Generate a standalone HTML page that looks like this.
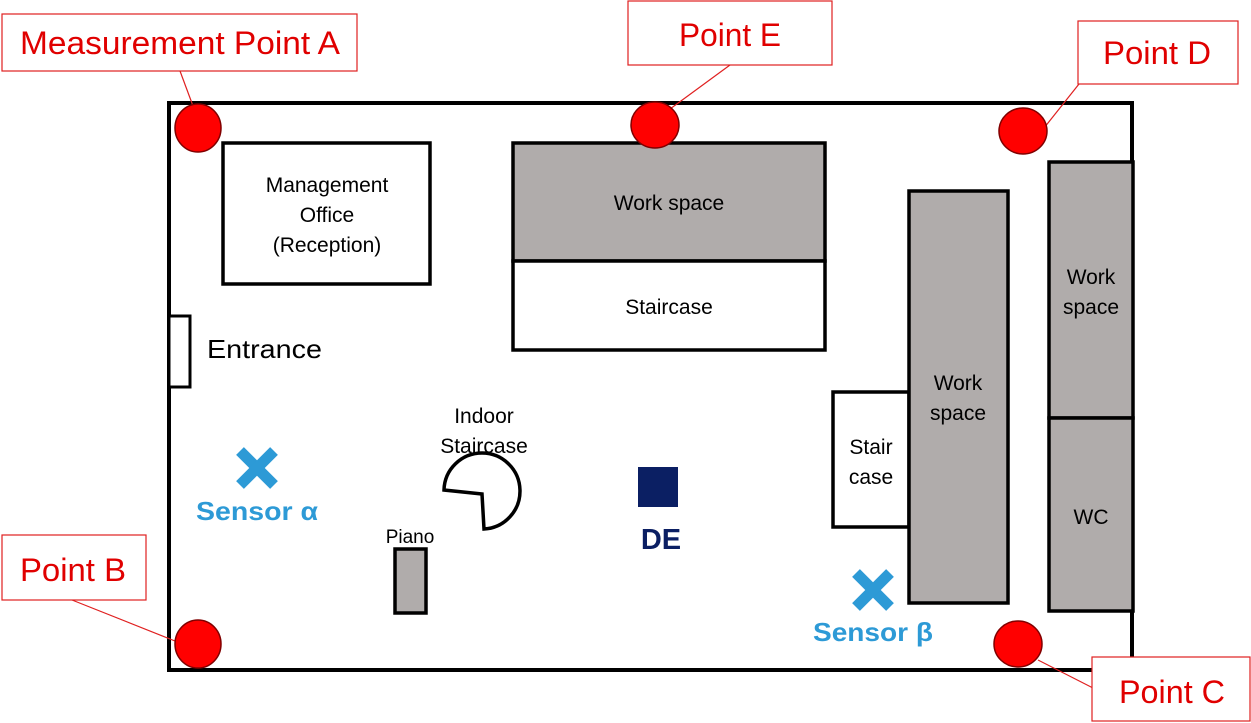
<!DOCTYPE html>
<html><head><style>body{margin:0;background:#fff}svg{display:block}</style></head>
<body>
<svg width="1251" height="723" viewBox="0 0 1251 723" font-family="Liberation Sans, sans-serif">
<rect x="0" y="0" width="1251" height="723" fill="#fff"/>
<rect x="169" y="103" width="963" height="567" fill="#fff" stroke="#000" stroke-width="4"/>
<rect x="169" y="316" width="21" height="71" fill="#fff" stroke="#000" stroke-width="3"/>
<text x="207" y="358" font-size="26" textLength="115" lengthAdjust="spacingAndGlyphs">Entrance</text>
<rect x="223" y="143" width="207" height="141" fill="#fff" stroke="#000" stroke-width="3.5"/>
<text font-size="21" text-anchor="middle"><tspan x="327" y="192">Management</tspan><tspan x="327" y="222">Office</tspan><tspan x="327" y="252">(Reception)</tspan></text>
<rect x="513" y="143" width="312" height="118" fill="#b0acab" stroke="#000" stroke-width="3.5"/>
<text x="669" y="210" font-size="21" text-anchor="middle">Work space</text>
<rect x="513" y="261" width="312" height="89" fill="#fff" stroke="#000" stroke-width="3.5"/>
<text x="669" y="314" font-size="21" text-anchor="middle">Staircase</text>
<rect x="833" y="392" width="76" height="135" fill="#fff" stroke="#000" stroke-width="3.5"/>
<text font-size="21" text-anchor="middle"><tspan x="871" y="454">Stair</tspan><tspan x="871" y="484">case</tspan></text>
<rect x="909" y="191" width="99" height="412" fill="#b0acab" stroke="#000" stroke-width="3.5"/>
<text font-size="21" text-anchor="middle"><tspan x="958" y="390">Work</tspan><tspan x="958" y="420">space</tspan></text>
<rect x="1049" y="162" width="84" height="256" fill="#b0acab" stroke="#000" stroke-width="3.5"/>
<text font-size="21" text-anchor="middle"><tspan x="1091" y="284">Work</tspan><tspan x="1091" y="314">space</tspan></text>
<rect x="1049" y="418" width="84" height="193" fill="#b0acab" stroke="#000" stroke-width="3.5"/>
<text x="1091" y="524" font-size="21" text-anchor="middle">WC</text>
<rect x="395" y="549" width="31" height="64" fill="#b0acab" stroke="#000" stroke-width="3.5"/>
<text x="410" y="543" font-size="19" text-anchor="middle">Piano</text>
<path d="M482 494 L444 490 A38 38 0 1 1 484 529 Z" fill="#fff" stroke="#000" stroke-width="3.5"/>
<text font-size="21" text-anchor="middle"><tspan x="484" y="423">Indoor</tspan><tspan x="484" y="453">Staircase</tspan></text>
<rect x="638" y="467" width="40" height="40" fill="#0b1f63"/>
<text x="661" y="549" font-size="29" font-weight="bold" fill="#0b1f63" text-anchor="middle">DE</text>
<g stroke="#2d9ad6" stroke-width="11" stroke-linecap="butt">
<line x1="240" y1="451" x2="274" y2="485"/><line x1="274" y1="451" x2="240" y2="485"/>
<line x1="856" y1="573" x2="890" y2="607"/><line x1="890" y1="573" x2="856" y2="607"/>
</g>
<text x="257" y="520" font-size="26" font-weight="bold" fill="#2d9ad6" text-anchor="middle" textLength="122" lengthAdjust="spacingAndGlyphs">Sensor α</text>
<text x="873" y="641" font-size="26" font-weight="bold" fill="#2d9ad6" text-anchor="middle" textLength="120" lengthAdjust="spacingAndGlyphs">Sensor β</text>
<g stroke="#e02020" stroke-width="1.2">
<line x1="180" y1="71" x2="193" y2="106"/>
<line x1="730" y1="65" x2="670" y2="109"/>
<line x1="1079" y1="84" x2="1044" y2="128"/>
<line x1="72" y1="600" x2="175" y2="641"/>
<line x1="1038" y1="660" x2="1093" y2="688"/>
</g>
<g fill="#ff0000" stroke="#800000" stroke-width="1.5">
<ellipse cx="198" cy="128" rx="23" ry="24"/>
<ellipse cx="655" cy="125" rx="24" ry="23"/>
<ellipse cx="1023" cy="131" rx="24" ry="23"/>
<ellipse cx="198" cy="644" rx="23" ry="24"/>
<ellipse cx="1018" cy="644" rx="24" ry="23"/>
</g>
<g fill="#fff" stroke="#e02020" stroke-width="1.2">
<rect x="2" y="14" width="355" height="57"/>
<rect x="628" y="1" width="204" height="64"/>
<rect x="1078" y="21" width="160" height="63"/>
<rect x="2" y="535" width="144" height="65"/>
<rect x="1092" y="657" width="158" height="64"/>
</g>
<g font-size="32" fill="#e00000" lengthAdjust="spacingAndGlyphs">
<text x="20" y="54" textLength="320" lengthAdjust="spacingAndGlyphs">Measurement Point A</text>
<text x="679" y="46" textLength="102" lengthAdjust="spacingAndGlyphs">Point E</text>
<text x="1103" y="64" textLength="108" lengthAdjust="spacingAndGlyphs">Point D</text>
<text x="20" y="581" textLength="106" lengthAdjust="spacingAndGlyphs">Point B</text>
<text x="1119" y="703" textLength="106" lengthAdjust="spacingAndGlyphs">Point C</text>
</g>
</svg>
</body></html>
